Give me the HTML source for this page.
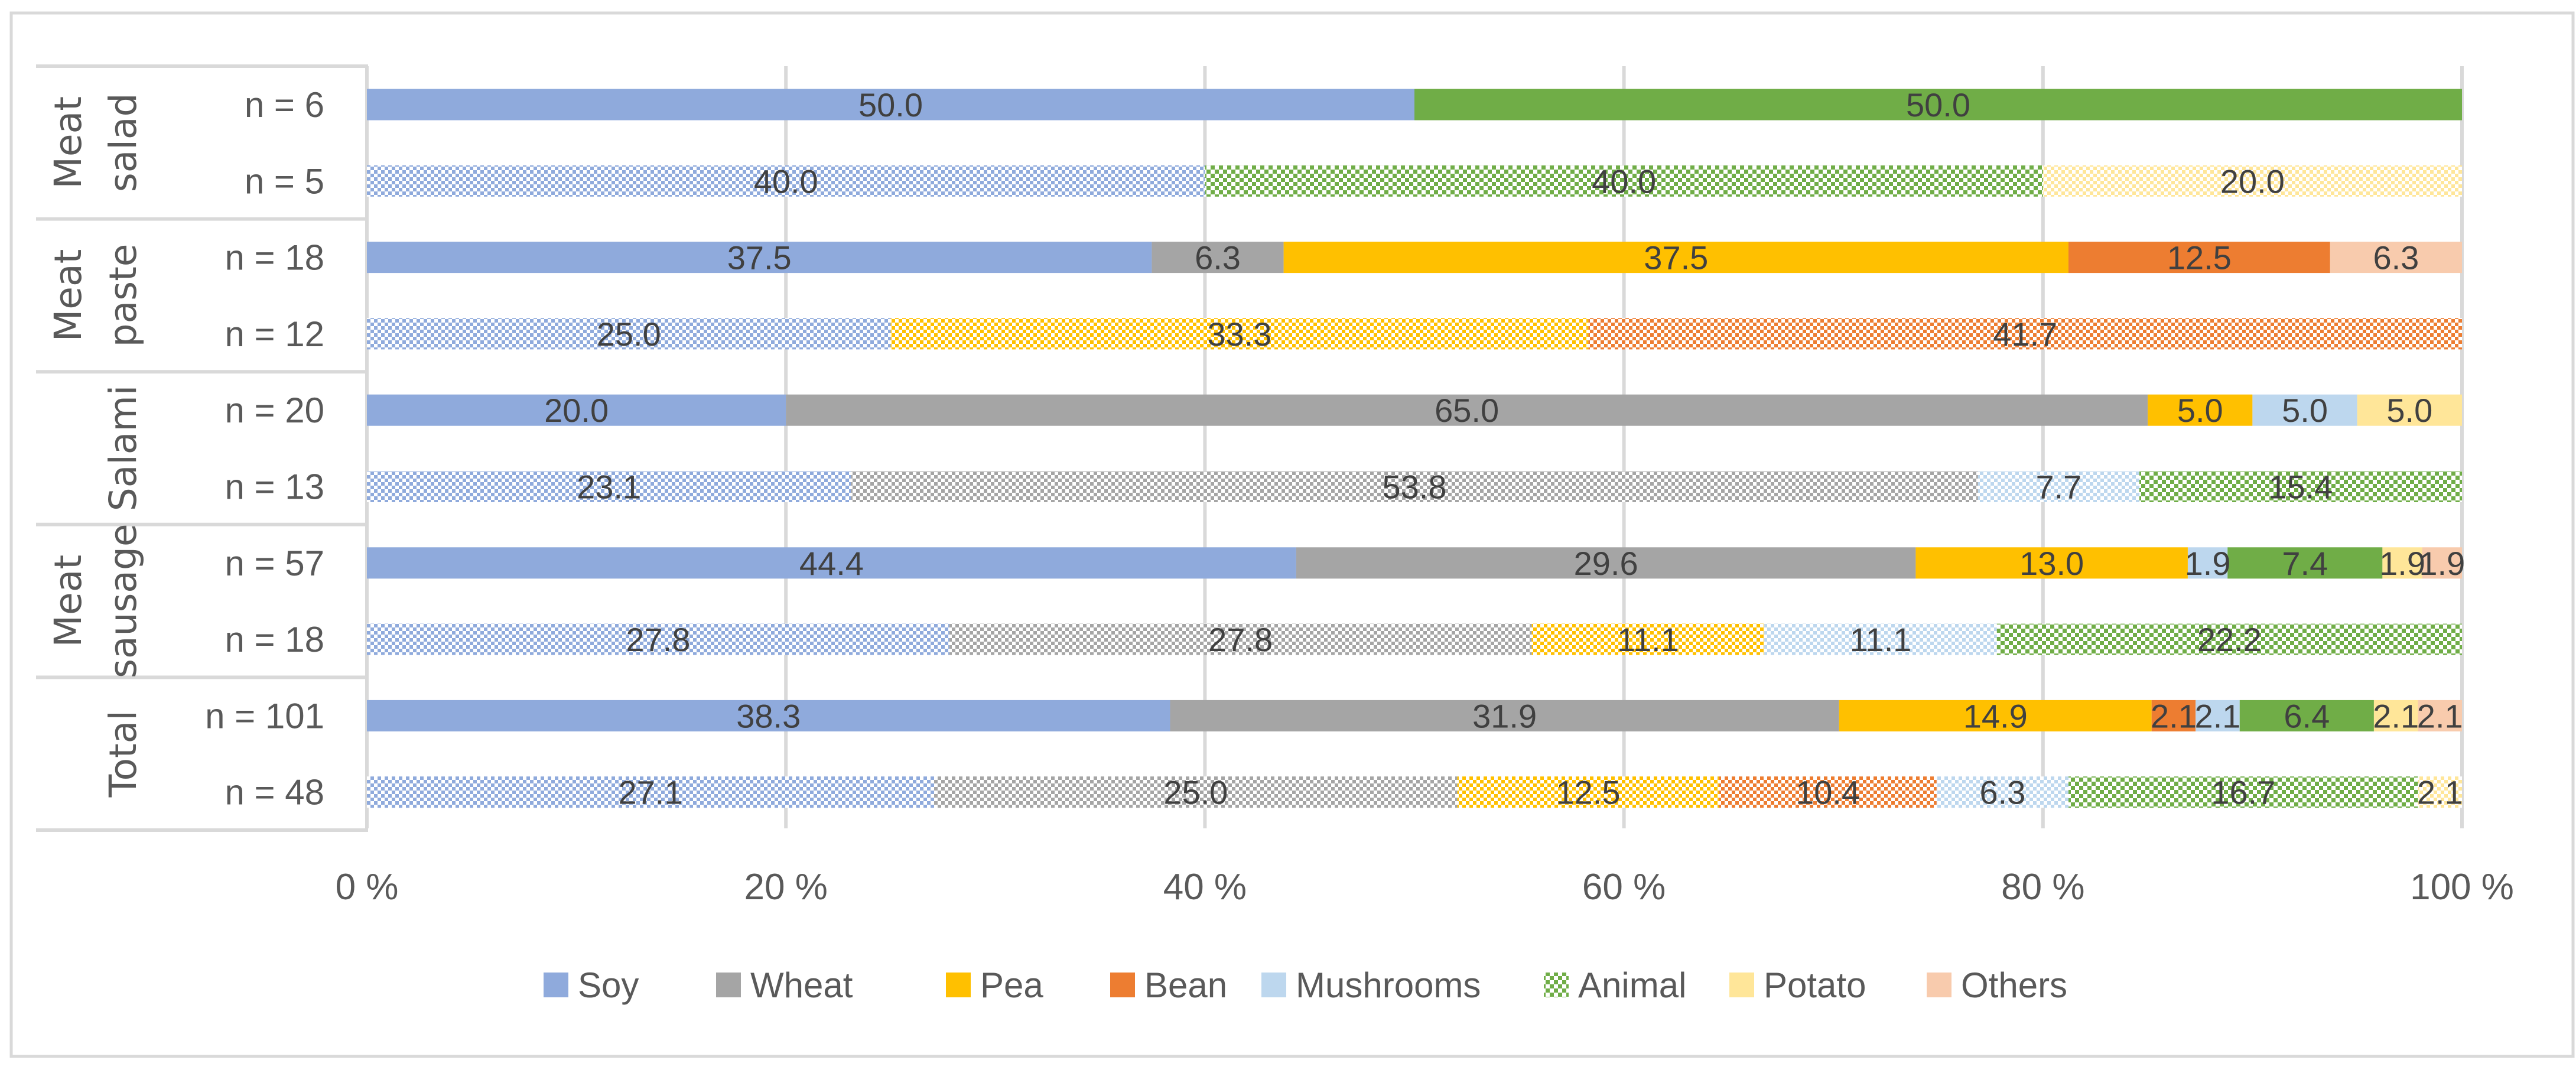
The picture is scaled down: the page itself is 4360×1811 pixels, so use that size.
<!DOCTYPE html>
<html><head><meta charset="utf-8">
<style>
html,body{margin:0;padding:0;background:#fff;}
svg{display:block;}
text{font-family:"Liberation Sans",sans-serif;}
</style></head>
<body>
<svg id="chart" width="4360" height="1811" viewBox="0 0 4360 1811" xmlns="http://www.w3.org/2000/svg">
<defs id="defs"></defs>
<rect x="19" y="22" width="4336" height="1766" fill="#fff" stroke="#d9d9d9" stroke-width="5"/>
<g id="grid"></g>
<g id="table"></g>
<g id="bars"></g>
<g id="labels"></g>
<g id="ticks"></g>
<g id="legend"></g>
</svg>
<script>
const series = ["Soy","Wheat","Pea","Bean","Mushrooms","Animal","Potato","Others"];
const colors = ["#8faadc","#a5a5a5","#ffc000","#ed7d31","#bdd7ee","#70ad47","#ffe699","#f8cbad"];
const rowLabels = ["n = 6","n = 5","n = 18","n = 12","n = 20","n = 13","n = 57","n = 18","n = 101","n = 48"];
const rowPatterned = [false,true,false,true,false,true,false,true,false,true];
const groups = [["Meat","salad"],["Meat","paste"],["Salami"],["Meat","sausage"],["Total"]];
const soy       = [50.0,40.0,37.5,25.0,20.0,23.1,44.4,27.8,38.3,27.1];
const wheat     = [0,0,6.3,0,65.0,53.8,29.6,27.8,31.9,25.0];
const pea       = [0,0,37.5,33.3,5.0,0,13.0,11.1,14.9,12.5];
const bean      = [0,0,12.5,41.7,0,0,0,0,2.1,10.4];
const mushrooms = [0,0,0,0,5.0,7.7,1.9,11.1,2.1,6.3];
const animal    = [50.0,40.0,0,0,0,15.4,7.4,22.2,6.4,16.7];
const potato    = [0,20.0,0,0,5.0,0,1.9,0,2.1,2.1];
const others    = [0,0,6.3,0,0,0,1.9,0,2.1,0];
const ticks = [0,20,40,60,80,100];

const NS="http://www.w3.org/2000/svg";
const X0=621, X1=4167, TOP=112, PITCH=129.3, BARH=53;
const xs = v => X0 + (X1-X0)*v/100;
const yc = i => 177 + PITCH*i;
function mk(tag, attrs, parent){const e=document.createElementNS(NS,tag);for(const k in attrs)e.setAttribute(k,attrs[k]);parent.appendChild(e);return e;}
const defs=document.getElementById('defs');
colors.forEach((c,k)=>{
  const s = k===5?7:6;
  const p=mk('pattern',{id:'pat'+k,width:2*s,height:2*s,patternUnits:'userSpaceOnUse',x:X0,y:0},defs);
  mk('rect',{x:0,y:0,width:2*s,height:2*s,fill:'#fff'},p);
  mk('rect',{x:0,y:0,width:s,height:s,fill:c},p);
  mk('rect',{x:s,y:s,width:s,height:s,fill:c},p);
});
const grid=document.getElementById('grid');
ticks.forEach(t=>{
  const l=mk('line',{x1:xs(t),x2:xs(t),y1:TOP,y2:1402,stroke:'#d9d9d9','stroke-width':6},grid);
  
  
});
const tk=document.getElementById('ticks');
ticks.forEach(t=>{
  const e=mk('text',{x:xs(t),y:1522,'font-size':62,fill:'#595959','text-anchor':'middle'},tk);
  e.textContent=t+' %';
  
  
});
const tb=document.getElementById('table');
for(let g=0;g<=5;g++){
  const y=TOP+g*2*PITCH;
  const l=mk('line',{x1:61,x2:623,y1:y,y2:y,stroke:'#d9d9d9','stroke-width':6},tb);
  
  
}
const vl=mk('line',{x1:621,x2:621,y1:TOP,y2:1402,stroke:'#d9d9d9','stroke-width':6},tb);


groups.forEach((lines,g)=>{
  const cy=TOP+(2*g+1)*PITCH;
  const xsLines = lines.length===2?[137,230]:[230];
  lines.forEach((ln,j)=>{
    const e=mk('text',{x:xsLines[j],y:cy,'font-size':63,fill:'#595959','text-anchor':'middle',transform:`rotate(-90 ${xsLines[j]} ${cy})`,style:'font-family:"DejaVu Sans",sans-serif'},tb);
    e.textContent=ln;
    
    
  });
});
rowLabels.forEach((r,i)=>{
  const e=mk('text',{x:549,y:yc(i)+21,'font-size':60,fill:'#595959','text-anchor':'end'},tb);
  e.textContent=r;
  
  
});
const all=[soy,wheat,pea,bean,mushrooms,animal,potato,others];
const bg=document.getElementById('bars'), lg=document.getElementById('labels');
rowLabels.forEach((r,i)=>{
  const tot=all.reduce((a,s)=>a+s[i],0);
  let cum=0;
  all.forEach((s,k)=>{
    const v=s[i]; if(!v) return;
    const xa=xs(cum/tot*100), xb=xs((cum+v)/tot*100); cum+=v;
    const b=mk('rect',{x:xa,y:yc(i)-BARH/2,width:xb-xa,height:BARH,fill:rowPatterned[i]?`url(#pat${k})`:colors[k]},bg);
    
    
    const t=mk('text',{x:(xa+xb)/2,y:yc(i)+20,'font-size':56,fill:'#404040','text-anchor':'middle'},lg);
    t.textContent=v.toFixed(1);
    
    
  });
});
const lgd=document.getElementById('legend');
const legX=[920,1212,1601,1879,2135,2613,2927,3261];
series.forEach((s,k)=>{
  const g=mk('g',{},lgd);
  
  
  mk('rect',{x:legX[k],y:1646,width:42,height:42,fill:k===5?'url(#pat5)':colors[k]},g);
  const t=mk('text',{x:legX[k]+58,y:1688,'font-size':60,fill:'#595959'},g);
  t.textContent=s;
});
</script>
</body></html>
